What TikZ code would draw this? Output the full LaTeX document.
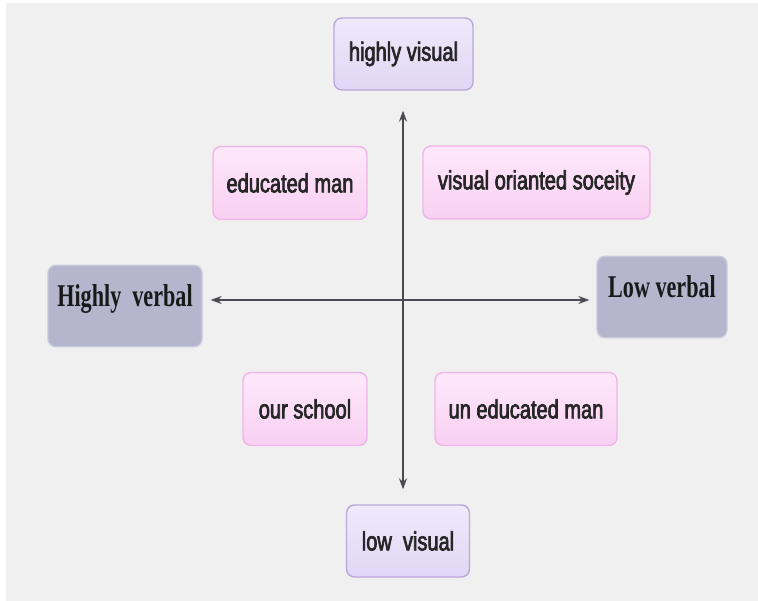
\documentclass[tikz,border=0pt]{standalone}
\usepackage{fontspec}
\newfontfamily\boxsans[FakeStretch=0.76,FakeBold=2.5]{Liberation Sans}
\newfontfamily\boxserif[FakeStretch=0.70]{Liberation Serif}
\usetikzlibrary{calc,arrows.meta}

\definecolor{paper}{HTML}{F0F0F0}
\definecolor{lilacTop}{HTML}{F0E9FB}
\definecolor{lilacBot}{HTML}{E1D6F4}
\definecolor{lilacLine}{HTML}{B9A9DA}
\definecolor{pinkTop}{HTML}{FEE8FB}
\definecolor{pinkBot}{HTML}{F8D0F2}
\definecolor{pinkLine}{HTML}{F0B4E8}
\definecolor{slateFill}{HTML}{B5B5CD}
\definecolor{slateLine}{HTML}{C9C9DC}
\definecolor{axisgray}{HTML}{4A4A50}

\tikzset{
  visualbox/.style={draw=lilacLine, line width=0.8pt, rounded corners=0.16cm,
    top color=lilacTop, bottom color=lilacBot, minimum height=1.44cm,
    text=black!85, font=\boxsans\fontsize{15}{18}\selectfont},
  quadbox/.style={draw=pinkLine, line width=0.8pt, rounded corners=0.16cm,
    top color=pinkTop, bottom color=pinkBot, minimum height=1.46cm,
    text=black!85, font=\boxsans\fontsize{15}{18}\selectfont},
  verbalbox/.style={draw=slateLine, line width=0.8pt, rounded corners=0.16cm,
    fill=slateFill, minimum height=1.63cm, text depth=0.42cm,
    text=black!90, font=\boxserif\bfseries\fontsize{18}{21}\selectfont},
  axis/.style={draw=axisgray, line width=0.6pt, {Stealth[length=2.2mm,width=1.6mm]}-{Stealth[length=2.2mm,width=1.6mm]}}
}

\begin{document}
\begin{tikzpicture}
			%%%%% BACKGROUND %%%%%
			\fill[white] (0, 0) rectangle (15.16, 12.02);
			\fill[paper] (0.12, 0) rectangle (15.16, 11.96);
			\useasboundingbox (0, 0) rectangle (15.16, 12.02);
			
			%%%%% BOXES %%%%%
			\node[visualbox, minimum width=2.78cm] (hvis) at (8.07, 10.94) {highly visual};
			\node[visualbox, minimum width=2.46cm] (lvis) at (8.16, 1.20) {low\ \ visual};
			
			\node[quadbox, minimum width=3.08cm] (edman) at (5.80, 8.36) {educated man};
			\node[quadbox, minimum width=4.54cm] (vosoc) at (10.73, 8.37) {visual orianted soceity};
			\node[quadbox, minimum width=2.48cm] (school) at (6.10, 3.84) {our school};
			\node[quadbox, minimum width=3.64cm] (unedman) at (10.52, 3.84) {un educated man};
			
			\node[verbalbox, minimum width=3.08cm] (hverb) at (2.50, 5.90) {Highly\ \ verbal};
			\node[verbalbox, minimum width=2.60cm] (lverb) at (13.24, 6.08) {Low verbal};
			
			%%%%% AXES %%%%%
			\coordinate (mid) at (8.06, 6.02);
			\draw[axis, shorten <=0.40cm, shorten >=0.30cm] (hvis.south -| mid) -- (lvis.north -| mid);
			\draw[axis, shorten <=0.16cm, shorten >=0.14cm] (hverb.east |- mid) -- (lverb.west |- mid);
		\end{tikzpicture}
\end{document}
